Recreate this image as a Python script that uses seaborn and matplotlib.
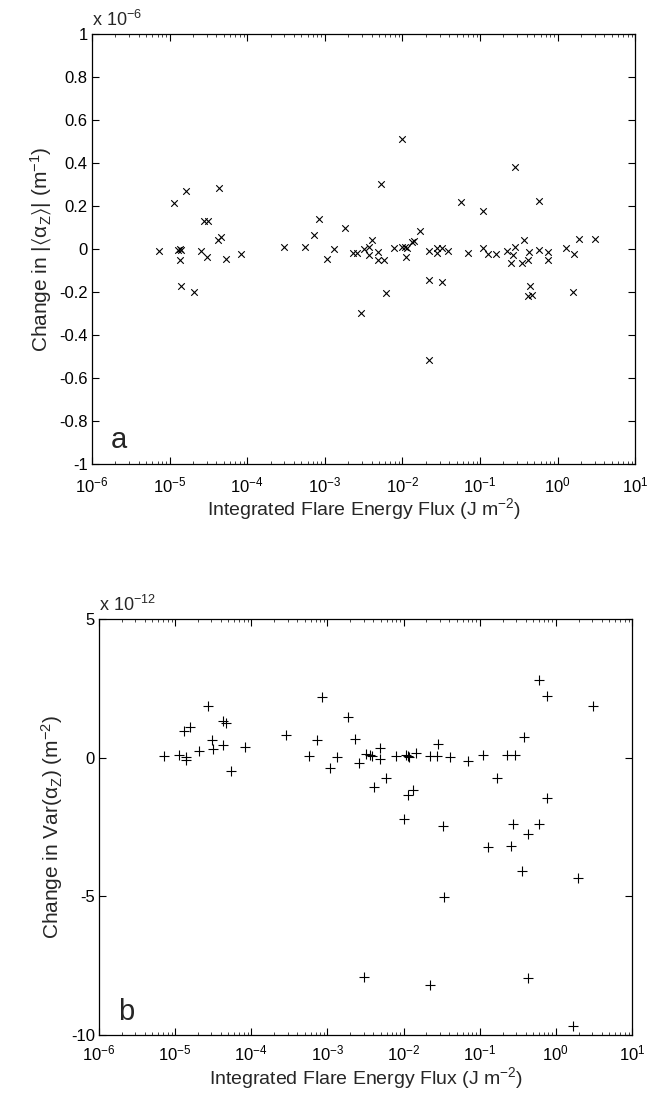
import numpy as np
import pandas as pd
import matplotlib
matplotlib.use("Agg")
import matplotlib.pyplot as plt
import matplotlib.ticker as mticker
import seaborn as sns

# ---- Panel a: change in |<alpha_z>| (units of 1e-6 m^-1) ----
flux_a = [7.4e-6, 1.13e-5, 1.28e-5, 1.35e-5, 1.42e-5, 1.38e-5, 1.39e-5, 1.62e-5,
          2.08e-5, 2.54e-5, 2.75e-5, 3.1e-5, 3.05e-5, 4.3e-5, 4.2e-5, 4.6e-5,
          5.3e-5, 8.4e-5,
          2.95e-4, 5.6e-4, 7.3e-4, 8.5e-4, 1.07e-3, 1.33e-3, 1.84e-3, 2.3e-3,
          2.56e-3, 2.9e-3, 3.16e-3, 3.65e-3, 3.7e-3, 4.1e-3, 4.8e-3, 4.8e-3,
          5.3e-3, 5.7e-3, 6.2e-3, 7.8e-3, 1.0e-2, 1.0e-2, 1.08e-2, 1.15e-2,
          1.12e-2, 1.32e-2, 1.41e-2, 1.66e-2, 2.18e-2, 2.18e-2, 2.18e-2,
          2.77e-2, 2.8e-2, 3.2e-2, 3.2e-2, 3.9e-2,
          5.66e-2, 6.9e-2, 0.109, 0.11, 0.128, 0.162, 0.224, 0.249, 0.267,
          0.278, 0.278, 0.343, 0.37, 0.417, 0.43, 0.433, 0.42, 0.46, 0.57,
          0.58, 0.745, 0.75, 1.26, 1.6, 1.56, 1.87, 2.98]
dalpha_a = [-0.01, 0.215, -0.005, 0.0, -0.005, -0.05, -0.17, 0.27,
            -0.2, -0.01, 0.13, 0.13, -0.035, 0.285, 0.04, 0.055,
            -0.045, -0.025,
            0.009, 0.009, 0.067, 0.138, -0.047, 0.0, 0.098, -0.02,
            -0.02, -0.30, 0.0, -0.028, 0.01, 0.04, -0.012, -0.05,
            0.30, -0.05, -0.205, 0.005, 0.513, 0.01, 0.01, 0.003,
            -0.037, 0.034, 0.036, 0.082, -0.008, -0.146, -0.515,
            0.005, -0.017, 0.005, -0.152, -0.008,
            0.22, -0.017, 0.005, 0.178, -0.025, -0.022, -0.008, -0.067, -0.028,
            0.009, 0.38, -0.067, 0.043, -0.053, -0.015, -0.17, -0.217, -0.212, -0.003,
            0.223, -0.012, -0.051, 0.005, -0.023, -0.2, 0.047, 0.047]

# ---- Panel b: change in Var(alpha_z) (units of 1e-12 m^-2) ----
flux_b = [7.2e-6, 1.12e-5, 1.38e-5, 1.38e-5, 1.3e-5, 1.59e-5, 2.08e-5, 2.74e-5,
          3.07e-5, 3.1e-5, 4.2e-5, 4.6e-5, 4.2e-5, 5.4e-5, 8.3e-5,
          2.9e-4, 5.7e-4, 7.4e-4, 8.6e-4, 1.07e-3, 1.35e-3, 1.86e-3, 2.3e-3,
          2.6e-3, 3.0e-3, 3.2e-3, 3.6e-3, 3.8e-3, 4.1e-3, 4.9e-3, 4.9e-3,
          5.8e-3, 7.9e-3, 1.0e-2, 1.07e-2, 1.13e-2, 1.19e-2, 1.15e-2, 1.35e-2,
          1.45e-2, 2.24e-2, 2.24e-2, 2.77e-2, 2.85e-2, 3.3e-2, 3.37e-2, 4.1e-2,
          7.1e-2, 0.11, 0.13, 0.17, 0.23, 0.257, 0.276, 0.29, 0.36, 0.38,
          0.43, 0.436, 0.6, 0.6, 0.77, 0.77, 1.66, 1.95, 3.1]
dvar_b = [0.05, 0.08, 0.02, -0.1, 0.95, 1.12, 0.24, 1.86,
          0.645, 0.32, 1.33, 1.25, 0.47, -0.49, 0.39,
          0.8, 0.05, 0.645, 2.2, -0.37, 0.04, 1.48, 0.67,
          -0.18, -7.9, 0.13, 0.08, 0.05, -1.05, 0.35, -0.05,
          -0.73, 0.05, -2.22, 0.1, 0.06, 0.01, -1.34, -1.15,
          0.18, 0.07, -8.18, 0.07, 0.5, -2.47, -5.03, 0.02,
          -0.11, 0.08, -3.21, -0.72, 0.08, -3.19, -2.4, 0.11, -4.07, 0.73,
          -2.74, -7.95, 2.8, -2.4, 2.22, -1.47, -9.68, -4.32, 1.87]

yticks_a = [-1, -0.8, -0.6, -0.4, -0.2, 0, 0.2, 0.4, 0.6, 0.8, 1]
yticks_b = [-10, -5, 0, 5]
xticks = [1e-6, 1e-5, 1e-4, 1e-3, 1e-2, 1e-1, 1e0, 1e1]

df_a = pd.DataFrame({"flux": flux_a, "val": dalpha_a})
df_b = pd.DataFrame({"flux": flux_b, "val": dvar_b})

sns.set_style("ticks")
plt.rcParams["font.family"] = ["Liberation Sans", "DejaVu Sans"]
plt.rcParams["axes.unicode_minus"] = False
plt.rcParams["mathtext.fontset"] = "custom"
plt.rcParams["mathtext.rm"] = "Liberation Sans"
plt.rcParams["mathtext.it"] = "Liberation Sans:italic"
plt.rcParams["mathtext.default"] = "regular"

fig = plt.figure(figsize=(6.5, 10.93), dpi=100)
ax1 = fig.add_axes([0.1415, 0.5755, 0.836, 0.3934])
ax2 = fig.add_axes([0.1523, 0.0530, 0.820, 0.3807])

sns.scatterplot(data=df_a, x="flux", y="val", ax=ax1, marker="x", color="black",
                s=22, linewidth=0.8, legend=False)
sns.scatterplot(data=df_b, x="flux", y="val", ax=ax2, marker="+", color="black",
                s=55, linewidth=0.8, legend=False)

def style(ax, yticks, ylim, ylabel, letter, exp, xpad):
    ax.set_xscale("log")
    ax.set_xlim(1e-6, 1e1)
    ax.set_ylim(*ylim)
    ax.set_xticks(xticks)
    ax.xaxis.set_major_formatter(mticker.LogFormatterSciNotation())
    ax.xaxis.set_minor_locator(mticker.LogLocator(base=10, subs=np.arange(2, 10), numticks=20))
    ax.xaxis.set_minor_formatter(mticker.NullFormatter())
    ax.set_yticks(yticks)
    ax.yaxis.set_major_formatter(mticker.FuncFormatter(lambda v, p: "%g" % v))
    ax.tick_params(axis="both", which="major", direction="in", length=5, width=0.8,
                   top=True, right=True, labelsize=12, colors="black")
    ax.tick_params(axis="x", which="major", pad=xpad)
    ax.tick_params(axis="y", which="major", pad=3)
    ax.tick_params(axis="both", which="minor", direction="in", length=2.5, width=0.6,
                   top=True, right=True)
    for sp in ax.spines.values():
        sp.set_visible(True)
        sp.set_linewidth(0.9)
        sp.set_color("black")
    ax.set_xlabel(r"Integrated Flare Energy Flux (J m$^{-2}$)", fontsize=14, labelpad=1)
    ax.set_ylabel(ylabel, fontsize=15, labelpad=4)
    ax.text(0.0, 1.01, r"x 10$^{%d}$" % exp, transform=ax.transAxes,
            fontsize=13, ha="left", va="bottom")
    ax.text(0.035, 0.055, letter, transform=ax.transAxes, fontsize=21,
            ha="left", va="center")

style(ax1, yticks_a, (-1, 1), r"Change in $|\langle\alpha_Z\rangle|$ (m$^{-1}$)", "a", -6, 8)
style(ax2, yticks_b, (-10, 5), r"Change in Var($\alpha_Z$) (m$^{-2}$)", "b", -12, 6)

fig.savefig("out.png", dpi=100)
